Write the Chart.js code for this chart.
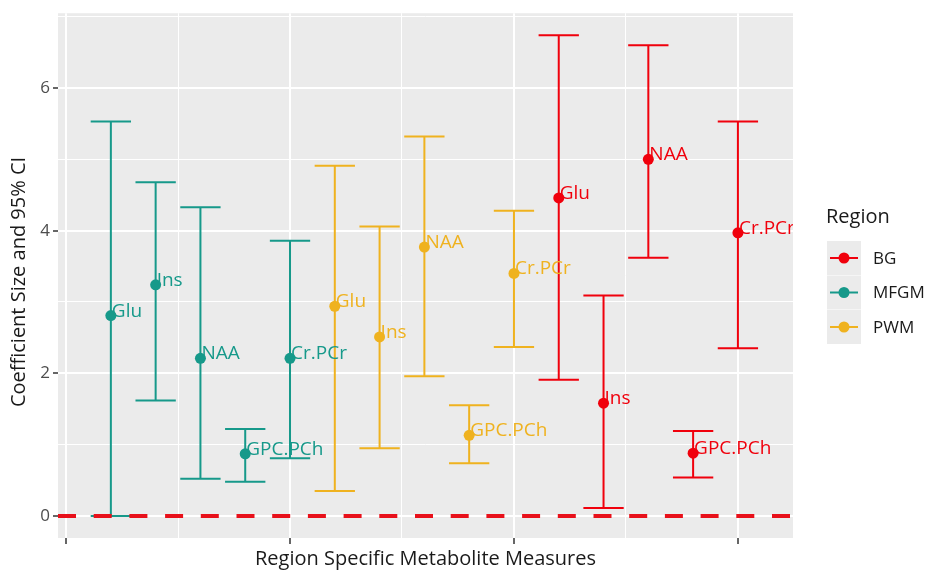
<!DOCTYPE html>
<html>
<head>
<meta charset="utf-8">
<script src="https://cdn.jsdelivr.net/npm/chart.js@4.4.1/dist/chart.umd.min.js"></script>
<style>
  html, body { margin: 0; padding: 0; background: #ffffff; }
  #wrap { width: 925px; height: 570px; position: relative; }
</style>
</head>
<body>
<div id="wrap"><canvas id="canvas"></canvas></div>
<script>
// metabolites, in plotting order within each region
var METABOLITES = ['Glu', 'Ins', 'NAA', 'GPC.PCh', 'Cr.PCr'];
var REGIONS = ['BG', 'MFGM', 'PWM'];

// x positions (position index along the x axis)
var mfgmX = [1, 2, 3, 4, 5];
var pwmX = [6, 7, 8, 9, 10];
var bgX = [11, 12, 13, 14, 15];

// coefficient estimates and 95% CI
var mfgmEst = [2.81, 3.24, 2.21, 0.87, 2.21];
var mfgmLow = [0.00, 1.62, 0.52, 0.48, 0.81];
var mfgmHigh = [5.53, 4.68, 4.33, 1.22, 3.86];

var pwmEst = [2.94, 2.51, 3.77, 1.13, 3.40];
var pwmLow = [0.35, 0.95, 1.96, 0.74, 2.37];
var pwmHigh = [4.91, 4.06, 5.32, 1.55, 4.28];

var bgEst = [4.46, 1.58, 5.00, 0.88, 3.97];
var bgLow = [1.91, 0.11, 3.62, 0.54, 2.35];
var bgHigh = [6.74, 3.09, 6.60, 1.19, 5.53];

var xTicks = [0, 2.5, 5, 7.5, 10, 12.5, 15];
var yTicks = [0, 1, 2, 3, 4, 5, 6, 7];

var colors = { BG: '#f0000c', MFGM: '#16998a', PWM: '#efb21f' };
var FONT = '"Open Sans", "Noto Sans", sans-serif';

function makeSet(name, xs, est, low, high) {
  return {
    label: name,
    data: xs.map(function (x, i) { return { x: x, y: est[i] }; }),
    low: low,
    high: high,
    names: METABOLITES,
    backgroundColor: colors[name],
    borderColor: colors[name],
    pointRadius: 5.5,
    pointBorderWidth: 0,
    showLine: false
  };
}

var errorBars = {
  id: 'errorBars',
  beforeDraw: function (chart) {
    var a = chart.chartArea, ctx = chart.ctx;
    ctx.save();
    ctx.fillStyle = '#ebebeb';
    ctx.fillRect(a.left, a.top, a.right - a.left, a.bottom - a.top);
    ctx.restore();
  },
  beforeDatasetsDraw: function (chart) {
    var ctx = chart.ctx, xs = chart.scales.x, ys = chart.scales.y;
    ctx.save();
    ctx.lineWidth = 2;
    chart.data.datasets.forEach(function (ds) {
      ctx.strokeStyle = ds.borderColor;
      ds.data.forEach(function (p, i) {
        var px = xs.getPixelForValue(p.x);
        var l = xs.getPixelForValue(p.x - 0.45), r = xs.getPixelForValue(p.x + 0.45);
        var top = ys.getPixelForValue(ds.high[i]), bot = ys.getPixelForValue(ds.low[i]);
        ctx.beginPath();
        ctx.moveTo(px, top); ctx.lineTo(px, bot);
        ctx.moveTo(l, top); ctx.lineTo(r, top);
        ctx.moveTo(l, bot); ctx.lineTo(r, bot);
        ctx.stroke();
      });
    });
    ctx.restore();
  },
  afterDatasetsDraw: function (chart) {
    var ctx = chart.ctx, xs = chart.scales.x, ys = chart.scales.y, a = chart.chartArea;
    ctx.save();
    // zero reference line
    var y0 = ys.getPixelForValue(0);
    ctx.strokeStyle = '#e8101a';
    ctx.lineWidth = 4;
    ctx.setLineDash([18, 17.7]);
    ctx.beginPath();
    ctx.moveTo(a.left, y0); ctx.lineTo(a.right, y0);
    ctx.stroke();
    ctx.setLineDash([]);
    // point labels
    ctx.beginPath();
    ctx.rect(a.left, a.top, a.right - a.left, a.bottom - a.top);
    ctx.clip();
    ctx.font = '19px ' + FONT;
    ctx.textAlign = 'left';
    ctx.textBaseline = 'alphabetic';
    chart.data.datasets.forEach(function (ds) {
      ctx.fillStyle = ds.borderColor;
      ds.data.forEach(function (p, i) {
        ctx.fillText(ds.names[i], xs.getPixelForValue(p.x) + 1, ys.getPixelForValue(p.y) + 1);
      });
    });
    ctx.restore();
  },
  afterDraw: function (chart) {
    var ctx = chart.ctx, a = chart.chartArea;
    ctx.save();
    ctx.fillStyle = '#1a1a1a';
    ctx.font = '20px ' + FONT;
    ctx.textAlign = 'center';
    ctx.textBaseline = 'middle';
    ctx.fillText('Region Specific Metabolite Measures', (a.left + a.right) / 2, 559);
    ctx.translate(19, 282);
    ctx.rotate(-Math.PI / 2);
    ctx.fillText('Coefficient Size and 95% CI', 0, 0);
    ctx.restore();

    // legend
    ctx.save();
    ctx.fillStyle = '#1a1a1a';
    ctx.font = '20px ' + FONT;
    ctx.textAlign = 'left';
    ctx.textBaseline = 'middle';
    ctx.fillText('Region', 826, 217);
    ctx.font = '17px ' + FONT;
    REGIONS.forEach(function (name, i) {
      var cy = 258 + i * 34.5;
      ctx.fillStyle = '#ebebeb';
      ctx.fillRect(827, cy - 17, 34, 34);
      ctx.strokeStyle = colors[name];
      ctx.lineWidth = 2;
      ctx.beginPath();
      ctx.moveTo(830, cy); ctx.lineTo(858, cy);
      ctx.stroke();
      ctx.fillStyle = colors[name];
      ctx.beginPath();
      ctx.arc(844, cy, 5.5, 0, Math.PI * 2);
      ctx.fill();
      ctx.fillStyle = '#1a1a1a';
      ctx.fillText(name, 873, cy + 1);
    });
    ctx.restore();
  }
};

window.onload = function () {
  var ctx = document.getElementById('canvas').getContext('2d');
  window.myChart = new Chart(ctx, {
    type: 'scatter',
    data: {
      datasets: [
        makeSet('BG', bgX, bgEst, bgLow, bgHigh),
        makeSet('MFGM', mfgmX, mfgmEst, mfgmLow, mfgmHigh),
        makeSet('PWM', pwmX, pwmEst, pwmLow, pwmHigh)
      ]
    },
    options: {
      responsive: true,
      maintainAspectRatio: false,
      animation: false,
      layout: { padding: { top: 12, right: 132, bottom: 0, left: 0 } },
      plugins: { legend: { display: false }, tooltip: { enabled: false } },
      scales: {
        x: {
          type: 'linear',
          min: -0.18,
          max: 16.23,
          afterBuildTicks: function (s) { s.ticks = xTicks.map(function (v) { return { value: v }; }); },
          afterFit: function (s) { s.height = 32; },
          border: { display: false },
          grid: {
            color: '#ffffff',
            lineWidth: function (c) { return c.tick && c.tick.value % 5 === 0 ? 2 : 1; },
            tickColor: function (c) { return c.tick && c.tick.value % 5 === 0 ? '#333333' : 'rgba(0,0,0,0)'; },
            tickWidth: 1.5,
            tickLength: 6
          },
          ticks: { callback: function () { return ''; } }
        },
        y: {
          min: -0.31,
          max: 7.05,
          afterBuildTicks: function (s) { s.ticks = yTicks.map(function (v) { return { value: v }; }); },
          afterFit: function (s) { s.width = 58; },
          border: { display: false },
          grid: {
            color: '#ffffff',
            lineWidth: function (c) { return c.tick && c.tick.value % 2 === 0 ? 2 : 1; },
            tickColor: function (c) { return c.tick && c.tick.value % 2 === 0 ? '#333333' : 'rgba(0,0,0,0)'; },
            tickWidth: 1.5,
            tickLength: 5
          },
          ticks: {
            color: '#4d4d4d',
            font: { family: FONT, size: 17 },
            padding: 3,
            callback: function (v) { return v % 2 === 0 ? String(v) : ''; }
          }
        }
      }
    },
    plugins: [errorBars]
  });
};
</script>
</body>
</html>
